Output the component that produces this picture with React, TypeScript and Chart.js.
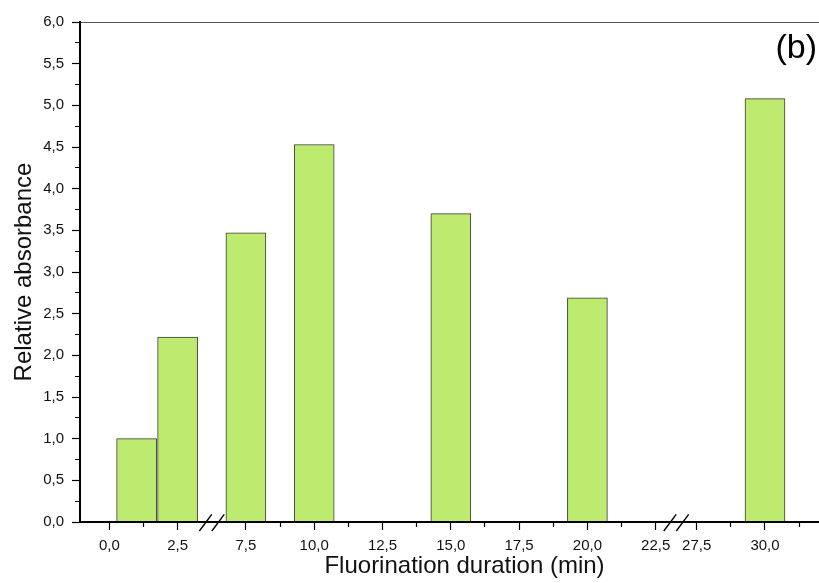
import React, { useEffect, useRef } from "react";
import { Chart, registerables } from "chart.js";

Chart.register(...registerables);

// ---- data ----
const durations = [1, 2.5, 7.5, 10, 15, 20, 30];
const absorbance = [1.0, 2.22, 3.47, 4.53, 3.7, 2.69, 5.08];

const majorTicks = [0, 2.5, 7.5, 10, 12.5, 15, 17.5, 20, 22.5, 27.5, 30];
const majorTickLabels = ["0,0", "2,5", "7,5", "10,0", "12,5", "15,0", "17,5", "20,0", "22,5", "27,5", "30,0"];
const minorTicks = [1.25, 8.75, 11.25, 13.75, 16.25, 18.75, 21.25, 28.75, 31.25];

const xTitle = "Fluorination duration (min)";
const yTitle = "Relative absorbance";
const panelLabel = "(b)";

// broken axis: 2.5 -> 7.5 and 22.5 -> 27.5 are compressed
function toAxis(v: number): number {
  if (v <= 2.5) return v / 2.5;
  if (v <= 22.5) return 2 + (v - 7.5) / 2.5;
  return 8.6 + (v - 27.5) / 2.5;
}
const breakMarks = [1.5, 8.3];

const FONT = '"Liberation Sans", Arial, Helvetica, sans-serif';

type TickItem = { value: number; label: string; minor: boolean };
const xTickItems: TickItem[] = [
  ...majorTicks.map((v, i) => ({ value: toAxis(v), label: majorTickLabels[i], minor: false })),
  ...minorTicks.map((v) => ({ value: toAxis(v), label: "", minor: true })),
].sort((a, b) => a.value - b.value);

const overlayPlugin = {
  id: "breaksAndPanel",
  afterDraw(chart: any) {
    const ctx = chart.ctx;
    const xs = chart.scales.x;
    const y0 = chart.scales.y.getPixelForValue(0);
    ctx.save();
    ctx.strokeStyle = "#000";
    ctx.lineWidth = 1.4;
    for (const b of breakMarks) {
      const cx = xs.getPixelForValue(b);
      for (const off of [-6.2, 6.3]) {
        ctx.beginPath();
        ctx.moveTo(cx + off - 6.2, y0 + 9);
        ctx.lineTo(cx + off + 6.2, y0 - 7.7);
        ctx.stroke();
      }
    }
    ctx.font = `34px ${FONT}`;
    ctx.textAlign = "right";
    ctx.textBaseline = "alphabetic";
    ctx.fillStyle = "#000";
    ctx.fillText(panelLabel, 817, chart.chartArea.top + 36);
    ctx.restore();
  },
};

export default function App() {
  const ref = useRef<HTMLCanvasElement | null>(null);

  useEffect(() => {
    if (!ref.current) return;
    const chart = new Chart(ref.current, {
      type: "bar",
      data: {
        datasets: [
          {
            data: durations.map((d, i) => ({ x: toAxis(d), y: absorbance[i] })),
            backgroundColor: "#bdeb6f",
            borderColor: "#3a3a3a",
            borderWidth: 1,
            barThickness: 40,
          },
        ],
      },
      options: {
        animation: false,
        responsive: false,
        events: [],
        layout: { padding: { top: 22, right: 12, left: 0, bottom: 0 } },
        plugins: { legend: { display: false }, tooltip: { enabled: false } },
        scales: {
          x: {
            type: "linear",
            min: -0.429,
            max: 10.83,
            offset: false,
            grid: {
              offset: false,
              drawOnChartArea: false,
              drawTicks: true,
              tickLength: 8,
              tickColor: "#000",
              tickWidth: 1.2,
              tickBorderDash: (c: any) => (c.tick && xTickItems[c.index] && xTickItems[c.index].minor ? [4, 100] : []),
            },
            border: { display: true, color: "#000", width: 2, z: 1 },
            afterBuildTicks: (s: any) => {
              s.ticks = xTickItems.map((t) => ({ value: t.value }));
            },
            afterFit: (s: any) => {
              s.height = 61;
            },
            ticks: {
              autoSkip: false,
              maxRotation: 0,
              minRotation: 0,
              padding: 7,
              color: "#111",
              font: { family: FONT, size: 15 },
              callback: (_v: any, i: number) => xTickItems[i].label,
            },
            title: {
              display: true,
              text: xTitle,
              color: "#111",
              font: { family: FONT, size: 24 },
              padding: { top: 0, bottom: 2 },
            },
          },
          y: {
            type: "linear",
            min: 0,
            max: 6,
            grid: {
              drawOnChartArea: true,
              color: (c: any) => (c.tick && Math.abs(c.tick.value - 6) < 1e-9 ? "#555" : "rgba(0,0,0,0)"),
              lineWidth: 1,
              drawTicks: true,
              tickLength: 8,
              tickColor: "#000",
              tickWidth: 1.2,
              tickBorderDash: (c: any) => {
                if (!c.tick) return [];
                const v2 = c.tick.value * 2;
                return Math.abs(v2 - Math.round(v2)) < 1e-6 ? [] : [0, 3, 5, 100];
              },
            },
            border: { display: true, color: "#000", width: 2, z: 1 },
            afterFit: (s: any) => {
              s.width = 80;
            },
            ticks: {
              stepSize: 0.25,
              autoSkip: false,
              padding: 8,
              color: "#111",
              font: { family: FONT, size: 15 },
              callback: (v: any) => {
                const n = Number(v);
                const v2 = n * 2;
                if (Math.abs(v2 - Math.round(v2)) > 1e-6) return "";
                return n.toFixed(1).replace(".", ",");
              },
            },
            title: {
              display: true,
              text: yTitle,
              color: "#111",
              font: { family: FONT, size: 24 },
              padding: { top: 10, bottom: 0 },
            },
          },
        },
      },
      plugins: [overlayPlugin],
    } as any);
    return () => chart.destroy();
  }, []);

  return (
    <div
      style={{
        position: "fixed",
        left: 0,
        top: 0,
        width: 819,
        height: 583,
        overflow: "hidden",
        background: "#fff",
      }}
    >
      <canvas ref={ref} width={861} height={583} style={{ display: "block", width: 861, height: 583 }} />
    </div>
  );
}
